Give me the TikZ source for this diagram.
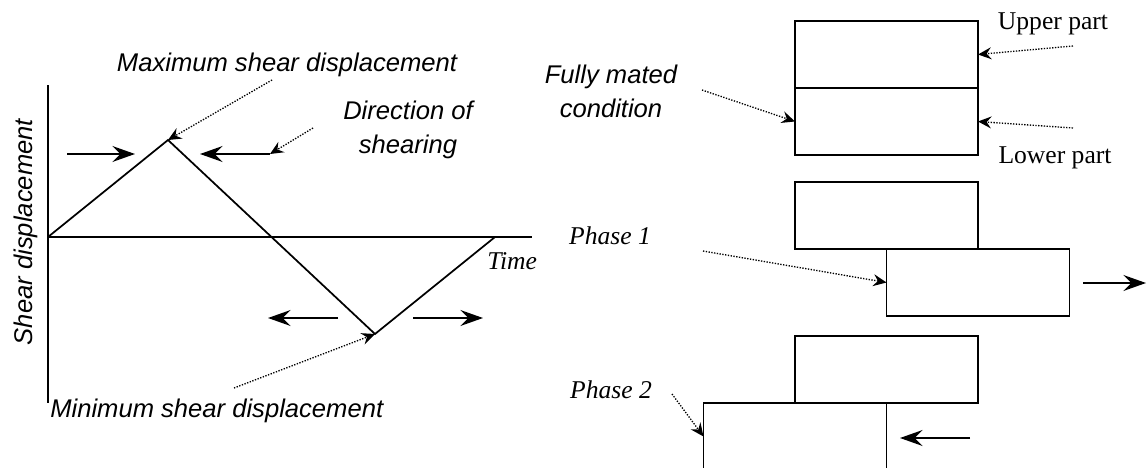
\documentclass[tikz,border=0pt]{standalone}
\usepackage{fontspec}
\setmainfont{Liberation Serif}
\setsansfont{Liberation Sans}
\usetikzlibrary{arrows.meta,positioning}
\tikzset{
  part/.style={draw,line width=1.3pt,minimum width=137.25pt,minimum height=50.25pt,
    inner sep=0pt,outer sep=0pt},
  curve/.style={line width=1.3pt,line join=miter},
  push/.style={-{Stealth[length=17pt,width=12pt,inset=6pt]},line width=1.3pt},
  pointer/.style={-{Stealth[length=10pt,width=9pt,inset=3.5pt]},line width=1pt,
    dash pattern=on 1pt off 1.1pt},
  sans/.style={font=\fontsize{19.2}{25}\selectfont\sffamily\itshape,inner sep=0pt},
  serif/.style={font=\fontsize{19.2}{25}\selectfont\rmfamily,inner sep=0pt},
  serifit/.style={font=\fontsize{19.2}{25}\selectfont\rmfamily\itshape,inner sep=0pt}
}

\begin{document}
\begin{tikzpicture}[x=0.75pt,y=-0.75pt]
  \useasboundingbox (0,0) rectangle (1147,468);

  % displacement against time
  \coordinate (O) at (48,237);
  \coordinate (ytop) at (48,85);
  \coordinate (ybot) at (48,403);
  \coordinate (xend) at (532,237);
  \coordinate (peak) at (168,140);
  \coordinate (valley) at (375,334);
  \coordinate (back) at (495,237);
  \draw[curve] (ytop) -- (ybot);
  \draw[curve] (O) -- (xend);
  \draw[curve] (O) -- (peak) -- (valley) -- (back);

  \node[sans,rotate=90,anchor=base] (ylabel) at (32,232) {Shear displacement};
  \node[serifit,anchor=base west] (timetxt) at (487,269) {Time};
  \node[sans,anchor=base] (maxtxt) at (287,71) {Maximum shear displacement};
  % base sits on the last line here
  \node[sans,anchor=base,align=center] (dirtxt) at (408,153) {Direction of\\shearing};
  \node[sans,anchor=base west] (mintxt) at (50,417) {Minimum shear displacement};

  % shearing directions
  \coordinate (in1) at (67,154);
  \coordinate (in2) at (135,154);
  \coordinate (in3) at (270,154);
  \coordinate (in4) at (200,154);
  \coordinate (out1) at (338,318);
  \coordinate (out2) at (268,318);
  \coordinate (out3) at (413,318);
  \coordinate (out4) at (483,318);
  \draw[push] (in1) -- (in2);
  \draw[push] (in3) -- (in4);
  \draw[push] (out1) -- (out2);
  \draw[push] (out3) -- (out4);

  \coordinate (maxfrom) at (272,80);
  \coordinate (dirfrom) at (313,128);
  \coordinate (minfrom) at (234,388);
  \draw[pointer] (maxfrom) -- (peak);
  \draw[pointer] (dirfrom) -- (in3);
  \draw[pointer] (minfrom) -- (valley);

  % joint halves
  \node[part] (mu) at (886.5,54.5) {};
  \node[part,below=0pt of mu] (ml) {};
  \node[part] (p1u) at (886.5,215.5) {};
  \node[part,anchor=north west] (p1l) at (p1u.south) {};
  \node[part] (p2u) at (886.5,369.5) {};
  \node[part,anchor=north east] (p2l) at (p2u.south) {};

  \node[serif,anchor=base] (uptxt) at (1053,29) {Upper part};
  \node[serif,anchor=base] (lowtxt) at (1055,163) {Lower part};
  \node[sans,anchor=base,align=center] (matetxt) at (611,117) {Fully mated\\condition};
  \node[serifit,anchor=base] (ph1txt) at (610,244) {Phase 1};
  \node[serifit,anchor=base] (ph2txt) at (611,398) {Phase 2};

  \coordinate (upfrom) at (1073,46);
  \coordinate (lowfrom) at (1073,128);
  \coordinate (matefrom) at (702,90);
  \coordinate (ph1from) at (703,251);
  \coordinate (ph2from) at (672,394);
  \draw[pointer] (upfrom) -- (mu.east);
  \draw[pointer] (lowfrom) -- (ml.east);
  \draw[pointer] (matefrom) -- (ml.west);
  \draw[pointer] (ph1from) -- (p1l.west);
  \draw[pointer] (ph2from) -- (p2l.west);

  \coordinate (go1) at (1083,283);
  \coordinate (go2) at (1146,283);
  \coordinate (ret1) at (970,438);
  \coordinate (ret2) at (900,438);
  \draw[push] (go1) -- (go2);
  \draw[push] (ret1) -- (ret2);
\end{tikzpicture}
\end{document}
